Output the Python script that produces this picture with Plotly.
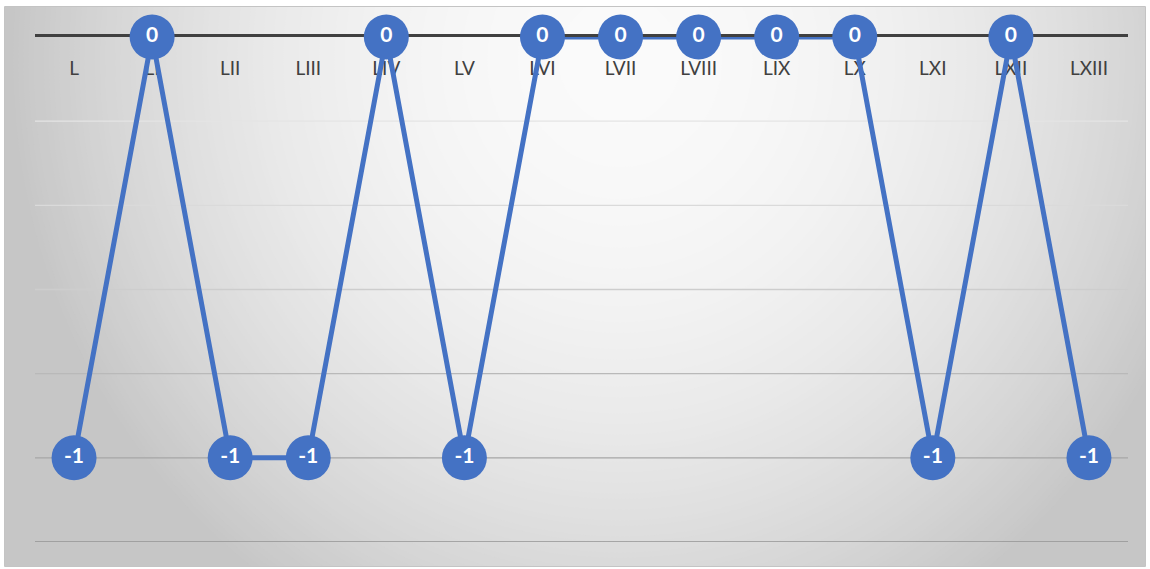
import numpy as np
import plotly.graph_objects as go

categories = ["L", "LI", "LII", "LIII", "LIV", "LV", "LVI", "LVII", "LVIII", "LIX", "LX", "LXI", "LXII", "LXIII"]
values = [-1, 0, -1, -1, 0, -1, 0, 0, 0, 0, 0, -1, 0, -1]
labels = [str(v) for v in values]

# horizontal gridlines (value axis) and their colours
grid_vals = [-0.2, -0.4, -0.6, -0.8, -1.0, -1.2]
grid_cols = ["#e4e4e4", "#dadada", "#cdcdcd", "#b9b9b9", "#a6a6a6", "#939393"]

W, H = 1150, 569
L, R, T, B = 35, 22, 37, 27
pw, ph = W - L - R, H - T - B

def px_x(x):
    return (x - L) / pw

def px_y(y):
    return (H - B - y) / ph

shapes = []
# chart area base (edge colour of radial gradient)
base = 198
shapes.append(dict(type="rect", xref="paper", yref="paper", layer="below",
                   x0=px_x(5), x1=px_x(1145), y0=px_y(566), y1=px_y(7),
                   fillcolor=f"rgb({base},{base},{base})", line=dict(width=0)))
# radial gradient approximation with opaque nested ellipses: brightness ~ 250 - 50*d^2
N = 120
cx, cy = 620, 60
rx, ry = 600, 630
rmax = 1.02
radii = np.linspace(rmax, 0.0, N + 1)[:-1]
step = rmax / N
cur = base
for r in radii:
    rm = max(r - step / 2, 0)
    t = int(round(min(250.0, max(base, 250 - 50 * rm ** 2))))
    if t <= cur:
        continue
    cur = t
    shapes.append(dict(type="circle", xref="paper", yref="paper", layer="below",
                       x0=px_x(cx - rx * r), x1=px_x(cx + rx * r),
                       y0=px_y(cy + ry * r), y1=px_y(cy - ry * r),
                       fillcolor=f"rgb({t},{t},{t})", line=dict(width=0)))
# cover spill outside chart area with white
for (a0, b0, c0, d0) in [(0, 5, 0, H), (1145, W, 0, H), (0, W, 0, 7), (0, W, 566, H)]:
    shapes.append(dict(type="rect", xref="paper", yref="paper", layer="below",
                       x0=px_x(a0), x1=px_x(b0), y0=px_y(d0), y1=px_y(c0),
                       fillcolor="white", line=dict(width=0)))
# chart border
shapes.append(dict(type="rect", xref="paper", yref="paper", layer="below",
                   x0=px_x(4.5), x1=px_x(1145.5), y0=px_y(566.5), y1=px_y(6.5),
                   fillcolor="rgba(0,0,0,0)", line=dict(color="#c4c4c4", width=1)))
# gridlines
for v, c in zip(grid_vals, grid_cols):
    shapes.append(dict(type="line", xref="paper", yref="y", layer="below",
                       x0=0, x1=1, y0=v, y1=v, line=dict(color=c, width=1.3)))

fig = go.Figure()
fig.add_trace(go.Scatter(
    x=categories, y=values, mode="lines+markers+text",
    line=dict(color="#4472C4", width=5),
    marker=dict(color="#4472C4", size=45, line=dict(width=0)),
    text=labels, textposition="middle center",
    textfont=dict(color="white", size=21, family="Lato", weight="bold"),
    cliponaxis=False, hoverinfo="skip", showlegend=False,
))

fig.update_layout(
    width=W, height=H,
    margin=dict(l=L, r=R, t=T, b=B, pad=0),
    paper_bgcolor="white", plot_bgcolor="rgba(0,0,0,0)",
    shapes=shapes,
    font=dict(family="Lato", color="#404040"),
    xaxis=dict(type="category", side="top", ticklabelposition="inside",
               showline=True, linecolor="#404040", linewidth=3,
               ticks="", showgrid=False, zeroline=False,
               tickfont=dict(size=19, color="#404040"),
               ticklabelstandoff=26, layer="below traces",
               range=[-0.5, len(categories) - 0.5]),
    yaxis=dict(range=[-1.2, 0], showticklabels=False, showgrid=False,
               zeroline=False, showline=False, ticks=""),
)

fig.write_html("out.html")
